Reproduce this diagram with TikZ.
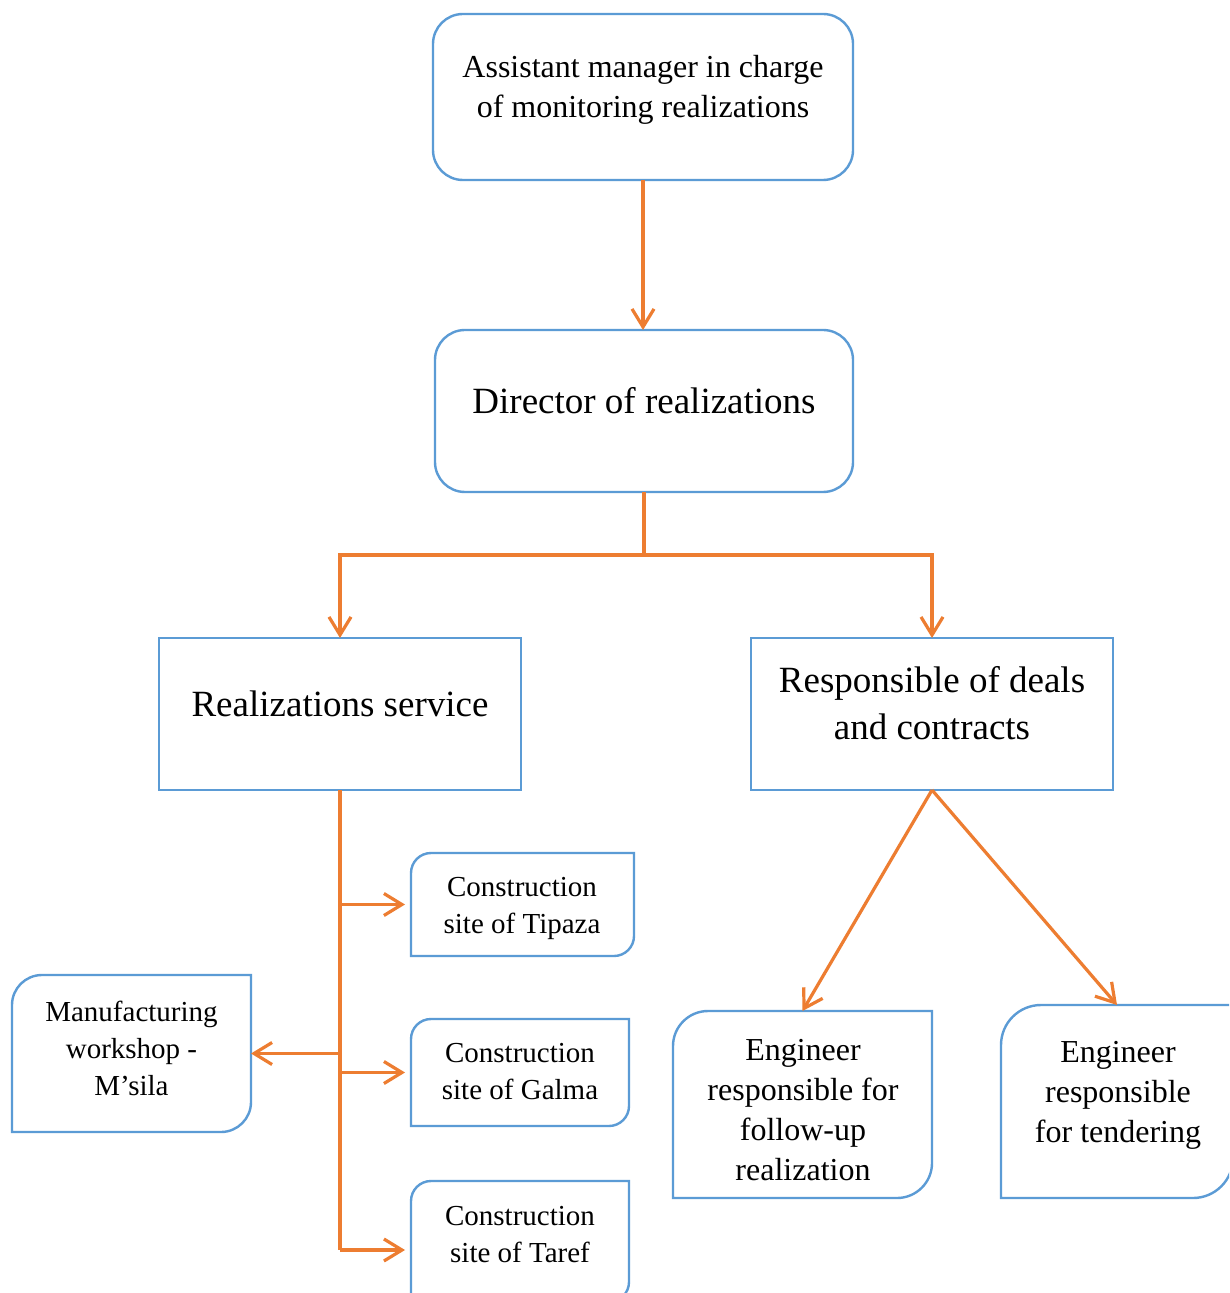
\documentclass[tikz,border=0pt]{standalone}
\usepackage{fontspec}
\setmainfont{Liberation Serif}
\usetikzlibrary{arrows.meta,calc}
\definecolor{boxblue}{HTML}{5B9BD5}
\definecolor{linkorange}{HTML}{ED7D31}
% outline with rounded top-left and bottom-right corners only
\newcommand\drawdiagbox[2]{%
  \draw[boxline] (#1.south west) -- ($(#1.north west)+(0,#2)$)
    .. controls ($(#1.north west)+(0,0.448*#2)$) and ($(#1.north west)+(0.448*#2,0)$) .. ($(#1.north west)+(#2,0)$)
    -- (#1.north east) -- ($(#1.south east)+(0,-#2)$)
    .. controls ($(#1.south east)+(0,-0.448*#2)$) and ($(#1.south east)+(-0.448*#2,0)$) .. ($(#1.south east)+(-#2,0)$)
    -- cycle;}
\begin{document}
\begin{tikzpicture}[x=0.5pt,y=-0.5pt,
  boxline/.style={draw=boxblue,line width=1.2pt},
  shapebox/.style={inner sep=0pt,outer sep=0pt},
  roundbox/.style={shapebox,boxline,rounded corners=15pt},
  squarebox/.style={shapebox,boxline},
  label/.style={align=center,inner sep=0pt,text=black},
  bigtext/.style={label,font=\fontsize{18.5}{23.5}\selectfont},
  midtext/.style={label,font=\fontsize{16}{20}\selectfont},
  smalltext/.style={label,font=\fontsize{14.5}{18.5}\selectfont},
  link/.style={draw=linkorange,line width=1.6pt},
  arr/.style={link,-{Straight Barb[length=9pt,width=11pt]}}]
\useasboundingbox (0,0) rectangle (1229,1293);
\fill[white] (0,0) rectangle (1229,1293);
\clip (0,0) rectangle (1229,1293);

% main chain
\node[roundbox,minimum width=210pt,minimum height=83pt] (A) at (643,97) {};
\node[midtext] (At) at (643,90) {Assistant manager in charge\\of monitoring realizations};
\node[roundbox,minimum width=209pt,minimum height=81pt] (B) at (644,411) {};
\node[bigtext] (Bt) at (644,401) {Director of realizations};
\node[squarebox,minimum width=181pt,minimum height=76pt] (C) at (340,714) {};
\node[bigtext] (Ct) at (340,704) {Realizations service};
\node[squarebox,minimum width=181pt,minimum height=76pt] (D) at (932,714) {};
\node[bigtext] (Dt) at (932,703) {Responsible of deals\\and contracts};

% sites and workshop
\node[shapebox,minimum width=111.5pt,minimum height=51.5pt] (E) at (522.5,904.5) {};
\node[smalltext] (Et) at (522,908.5) {Construction\\site of Tipaza};
\node[shapebox,minimum width=109pt,minimum height=53.5pt] (F) at (520,1072.5) {};
\node[smalltext] (Ft) at (520,1071.5) {Construction\\site of Galma};
\node[shapebox,minimum width=109pt,minimum height=60.5pt] (G) at (520,1241.5) {};
\node[smalltext] (Gt) at (520,1235) {Construction\\site of Taref};
\node[shapebox,minimum width=119.5pt,minimum height=78.5pt] (H) at (131.5,1053.5) {};
\node[smalltext] (Ht) at (131.5,1048) {Manufacturing\\workshop -\\M’sila};

% engineers
\node[shapebox,minimum width=129.5pt,minimum height=93.5pt] (I) at (802.5,1104.5) {};
\node[midtext] (It) at (803,1110) {Engineer\\responsible for\\follow-up\\realization};
\node[shapebox,minimum width=116pt,minimum height=96.5pt] (J) at (1117,1101.5) {};
\node[midtext] (Jt) at (1118,1095) {Engineer\\responsible\\for tendering};

\drawdiagbox{E}{20}
\drawdiagbox{F}{20}
\drawdiagbox{G}{20}
\drawdiagbox{H}{30}
\drawdiagbox{I}{35}
\drawdiagbox{J}{40}

% connectors
\coordinate (split) at (644,555);
\coordinate (trunkend) at (340,1250);
\draw[arr] (A.south) -- (A.south |- B.north);
\draw[link] (B.south) -- (split);
\draw[arr] (split) -| (C.north);
\draw[arr] (split) -| (D.north);
\draw[link] (C.south) -- (trunkend);
\draw[arr,shorten >=3pt] (C.south |- E.west) -- (E.west);
\draw[arr,shorten >=3pt] (C.south |- F.west) -- (F.west);
\draw[arr,shorten >=3pt] (trunkend) -- (trunkend -| G.west);
\draw[arr] (C.south |- H.east) -- (H.east);
\draw[arr] (D.south) -- (I.north);
\draw[arr] (D.south) -- (J.north);
\end{tikzpicture}
\end{document}
